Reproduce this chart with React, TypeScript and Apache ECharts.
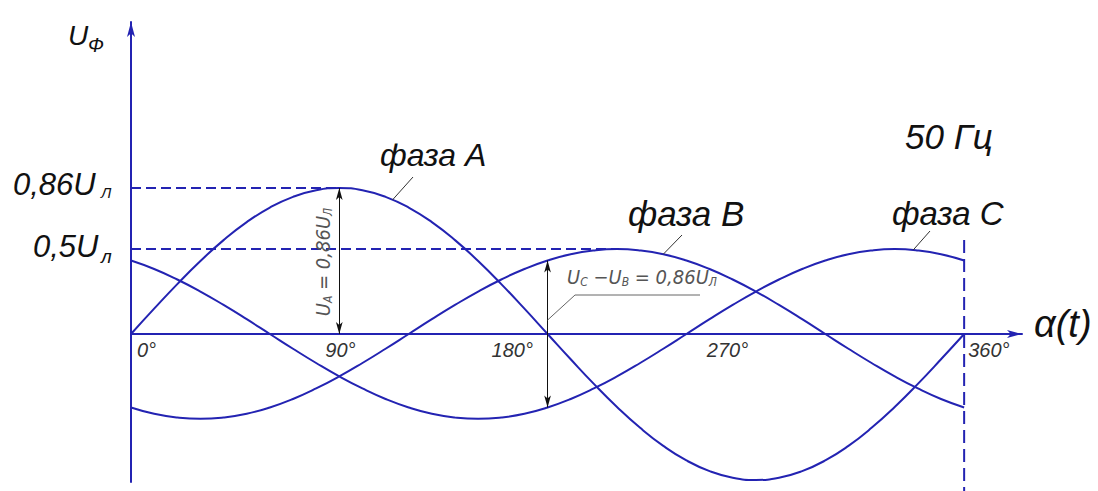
import React, { useEffect, useRef } from "react";
import * as echarts from "echarts";

// angle, degrees
const DEGREES = [
  0, 10, 20, 30, 40, 50, 60, 70, 80, 90, 100, 110, 120, 130, 140, 150, 160, 170, 180,
  190, 200, 210, 220, 230, 240, 250, 260, 270, 280, 290, 300, 310, 320, 330, 340, 350, 360,
];
// phase voltages (units of U_Л)
const PHASE_A = [
  0, 0.149, 0.294, 0.43, 0.553, 0.659, 0.745, 0.808, 0.847, 0.86, 0.847, 0.808, 0.745, 0.659, 0.553, 0.43, 0.294, 0.149, 0,
  -0.149, -0.294, -0.43, -0.553, -0.659, -0.745, -0.808, -0.847, -0.86, -0.847, -0.808, -0.745, -0.659, -0.553, -0.43, -0.294, -0.149, 0,
];
const PHASE_B = [
  -0.433, -0.47, -0.492, -0.5, -0.492, -0.47, -0.433, -0.383, -0.321, -0.25, -0.171, -0.087, 0, 0.087, 0.171, 0.25, 0.321, 0.383, 0.433,
  0.47, 0.492, 0.5, 0.492, 0.47, 0.433, 0.383, 0.321, 0.25, 0.171, 0.087, 0, -0.087, -0.171, -0.25, -0.321, -0.383, -0.433,
];
const PHASE_C = [
  0.433, 0.383, 0.321, 0.25, 0.171, 0.087, 0, -0.087, -0.171, -0.25, -0.321, -0.383, -0.433, -0.47, -0.492, -0.5, -0.492, -0.47, -0.433,
  -0.383, -0.321, -0.25, -0.171, -0.087, 0, 0.087, 0.171, 0.25, 0.321, 0.383, 0.433, 0.47, 0.492, 0.5, 0.492, 0.47, 0.433,
];
const X_TICKS = [0, 90, 180, 270, 360];
const X_TICK_LABELS = ["0°", "90°", "180°", "270°", "360°"];
const LEVEL_HIGH = 0.86;
const LEVEL_LOW = 0.5;
const LEVEL_LOW_END = 210;
const PHASE_NAMES = ["фаза А", "фаза В", "фаза С"];
// points on each curve where the label leader starts [deg, value]
const LEADER_POINTS = [
  [113, 0.79],
  [230, 0.47],
  [338, 0.495],
];
const END_DASH_TOP = 0.554;

const BLUE = "#2323b2";
const INK = "#111";
const GREY = "#555";
const FONT = '"Liberation Sans", Arial, sans-serif';
const NARROW = '"Liberation Sans Narrow", "DejaVu Sans Condensed", "Liberation Sans", sans-serif';

const X_MAX = 385;
const Y_MIN = -0.872;
const Y_MAX = 1.838;

function txt(text: string, x: number, y: number, size: number, opts: any = {}) {
  return {
    type: "text",
    x,
    y,
    silent: true,
    z: 10,
    rotation: opts.rotation || 0,
    style: {
      text,
      fill: opts.fill || INK,
      font: `italic ${size}px ${opts.family || FONT}`,
      fontStyle: "italic",
      fontSize: size,
      fontFamily: opts.family || FONT,
      align: opts.align || "left",
      verticalAlign: "middle",
      textAlign: opts.align || "left",
      textVerticalAlign: "middle",
      rich: opts.rich,
    },
  };
}

export default function App() {
  const ref = useRef<HTMLDivElement>(null);

  useEffect(() => {
    const chart = echarts.init(ref.current!, null, { renderer: "svg" });

    const line = (name: string, values: number[]) => ({
      type: "line",
      name,
      data: DEGREES.map((d, i) => [d, values[i]]),
      smooth: true,
      symbol: "none",
      showSymbol: false,
      silent: true,
      clip: false,
      lineStyle: { color: BLUE, width: 2 },
      itemStyle: { color: BLUE },
      z: 3,
    });

    const dashed = (type: number[]) => ({ color: BLUE, width: 2, type });
    const dim = { color: INK, width: 1, type: "solid" };
    const arrowEnd = (coord: number[]) => ({
      coord,
      symbol: "arrow",
      symbolSize: [5, 12],
      itemStyle: { color: INK },
    });
    const leaderStyle = { color: "#333", width: 1, type: "solid" };
    const leaderEnds = [
      { x: 413, y: 177 },
      { x: 682, y: 235 },
      { x: 930, y: 231 },
    ];

    const seriesA: any = line(PHASE_NAMES[0], PHASE_A);
    seriesA.markLine = {
      silent: true,
      symbol: "none",
      animation: false,
      label: { show: false },
      data: [
        [{ coord: [0, LEVEL_HIGH], lineStyle: dashed([10, 5]) }, { coord: [90, LEVEL_HIGH] }],
        [{ coord: [0, LEVEL_LOW], lineStyle: dashed([10, 5]) }, { coord: [LEVEL_LOW_END, LEVEL_LOW] }],
        [{ ...arrowEnd([90, 0]), lineStyle: dim }, arrowEnd([90, LEVEL_HIGH])],
        [{ ...arrowEnd([180, PHASE_B[18]]), lineStyle: dim }, arrowEnd([180, PHASE_C[18]])],
        ...LEADER_POINTS.map((p, i) => [{ coord: p, lineStyle: leaderStyle }, leaderEnds[i]]),
        [{ coord: [180, 0.082], lineStyle: { color: "#666", width: 1, type: "solid" } }, { x: 575, y: 295 }],
      ],
    };

    chart.setOption({
      animation: false,
      backgroundColor: "#fff",
      grid: { left: 131, top: 22, right: 76, bottom: 9, containLabel: false },
      xAxis: {
        type: "value",
        min: 0,
        max: X_MAX,
        splitLine: { show: false },
        axisTick: { show: false },
        axisLabel: { show: false },
        axisLine: {
          show: true,
          onZero: true,
          symbol: ["none", "arrow"],
          symbolSize: [6, 15],
          symbolOffset: [0, 0],
          lineStyle: { color: BLUE, width: 2 },
        },
      },
      yAxis: {
        type: "value",
        min: Y_MIN,
        max: Y_MAX,
        splitLine: { show: false },
        axisTick: { show: false },
        axisLabel: { show: false },
        axisLine: {
          show: true,
          onZero: false,
          symbol: ["none", "arrow"],
          symbolSize: [6, 15],
          lineStyle: { color: BLUE, width: 2 },
        },
      },
      series: [seriesA, line(PHASE_NAMES[1], PHASE_B), line(PHASE_NAMES[2], PHASE_C)],
    });

    const px = (x: number, y: number) => chart.convertToPixel({ gridIndex: 0 }, [x, y]) as number[];
    const tickOffsets = [6, -14, -56, -49, 4];
    const y0 = px(0, 0)[1];
    const endTop = px(360, END_DASH_TOP);

    const smallRich = {
      m: { fontSize: 20, fontFamily: NARROW, fontStyle: "italic", fill: GREY, color: GREY },
      s: { fontSize: 12, fontFamily: NARROW, fontStyle: "italic", fill: GREY, color: GREY, padding: [9, 0, 0, 0] },
    };

    const graphics: any[] = [
      // dashed boundary at 360°
      {
        type: "line",
        silent: true,
        z: 2,
        shape: { x1: endTop[0], y1: endTop[1], x2: endTop[0], y2: 491 },
        style: { stroke: BLUE, lineWidth: 2, lineDash: [13, 6] },
      },
      // axis titles
      txt("U", 68, 35, 28),
      txt("Ф", 88, 45, 20),
      txt("α(t)", 1034, 324, 38),
      txt("50 Гц", 905, 136, 35),
      // level labels
      txt("0,86U", 13, 184, 31),
      txt("Л", 101, 192, 15),
      txt("0,5U", 33, 246, 31),
      txt("л", 101, 256, 19),
      // phase labels
      txt(PHASE_NAMES[0], 380, 155, 32),
      txt(PHASE_NAMES[1], 628, 213, 35),
      txt(PHASE_NAMES[2], 892, 213, 33),
      // dimension texts
      txt("{m|U}{s|А}{m| = 0,86U}{s|Л}", 323, 262, 20, {
        rotation: Math.PI / 2,
        align: "center",
        fill: GREY,
        family: NARROW,
        rich: smallRich,
      }),
      txt("{m|U}{s|С}{m| −U}{s|В}{m| = 0,86U}{s|Л}", 567, 277, 20, {
        fill: GREY,
        family: NARROW,
        rich: smallRich,
      }),
      {
        type: "line",
        silent: true,
        shape: { x1: 575, y1: 295, x2: 700, y2: 295 },
        style: { stroke: "#666", lineWidth: 1 },
      },
      // tick labels
      ...X_TICKS.map((t, i) =>
        txt(X_TICK_LABELS[i], px(t, 0)[0] + tickOffsets[i], y0 + 16, 20, { fill: "#333" })
      ),
    ];

    chart.setOption({ graphic: graphics });

    return () => chart.dispose();
  }, []);

  return (
    <div
      ref={ref}
      style={{ position: "fixed", left: 0, top: 0, width: 1098, height: 491, background: "#fff" }}
    />
  );
}
